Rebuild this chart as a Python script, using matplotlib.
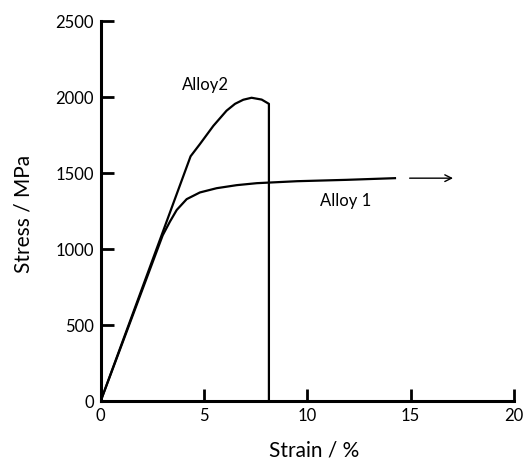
import matplotlib
matplotlib.use("Agg")
import matplotlib.pyplot as plt

# Data
alloy1_strain = [0, 3.0, 3.35, 3.68, 4.16, 4.8, 5.61, 6.58, 7.55, 9.5, 11.9, 14.24]
alloy1_stress = [0, 1090, 1180, 1257, 1328, 1372, 1400, 1420, 1433, 1446, 1455, 1466]

alloy2_strain = [0, 4.35, 4.8, 5.45, 6.09, 6.5, 6.9, 7.3, 7.79, 8.14, 8.14]
alloy2_stress = [0, 1610, 1690, 1810, 1910, 1955, 1982, 1995, 1983, 1955, 0]

x_ticks = [0, 5, 10, 15, 20]
y_ticks = [0, 500, 1000, 1500, 2000, 2500]

plt.rcParams['font.family'] = ['Lato', 'DejaVu Sans']

fig = plt.figure(figsize=(5.31, 4.61), dpi=100)
ax = fig.add_axes([100.7/531, 1-401/461, (514-100.7)/531, (401-21)/461])

ax.plot(alloy1_strain, alloy1_stress, color='black', lw=1.6, solid_joinstyle='round')
ax.plot(alloy2_strain, alloy2_stress, color='black', lw=1.6, solid_joinstyle='round')

ax.annotate('', xy=(17.05, alloy1_stress[-1]), xytext=(14.95, alloy1_stress[-1]),
            arrowprops=dict(arrowstyle='->', color='black', lw=1.0,
                            shrinkA=0, shrinkB=0, mutation_scale=12))

ax.text(5.06, 2080, 'Alloy2', ha='center', va='center', fontsize=12)
ax.text(11.85, 1318, 'Alloy 1', ha='center', va='center', fontsize=12)

ax.set_xlim(0, 20)
ax.set_ylim(0, 2500)
ax.set_xticks(x_ticks)
ax.set_yticks(y_ticks)
ax.spines['top'].set_visible(False)
ax.spines['right'].set_visible(False)
for s in ['left', 'bottom']:
    ax.spines[s].set_linewidth(2.2)
ax.tick_params(direction='in', length=9, width=2.0, labelsize=12, pad=5)

ax.set_xlabel('Strain / %', fontsize=15)
ax.set_ylabel('Stress / MPa', fontsize=15)
ax.xaxis.set_label_coords(0.517, -0.105)
ax.yaxis.set_label_coords(-0.163, 0.492)

fig.savefig('out.png', dpi=100)
